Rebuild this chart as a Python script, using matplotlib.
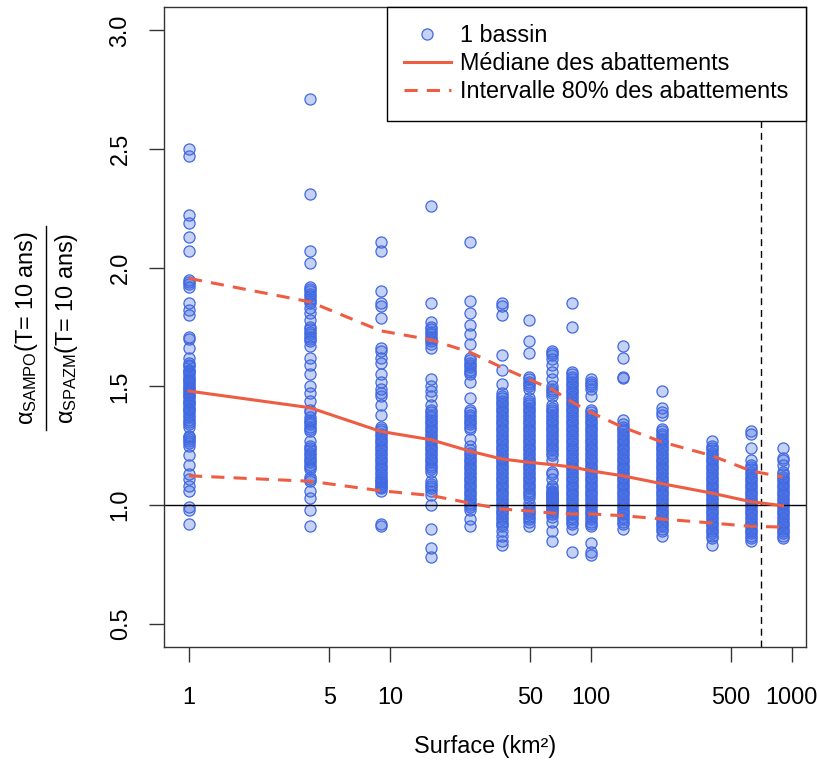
import matplotlib
matplotlib.use('Agg')
import matplotlib.pyplot as plt
from matplotlib.lines import Line2D

plt.rcParams['font.family'] = ['Liberation Sans', 'DejaVu Sans']
plt.rcParams['mathtext.fontset'] = 'custom'
plt.rcParams['mathtext.rm'] = 'Liberation Sans'
plt.rcParams['mathtext.it'] = 'Liberation Sans'
plt.rcParams['mathtext.bf'] = 'Liberation Sans:bold'

# surfaces (km2) of the basin groups
surfaces = [1, 4, 9, 16, 25, 36, 49, 64, 81, 100, 144, 225, 400, 625, 900]

# ratio values per surface group
col1 = [2.50, 2.47, 2.22, 2.19, 2.13, 2.07, 1.95, 1.94, 1.93, 1.92, 1.85, 1.82, 1.80,
        1.71, 1.70, 1.66, 1.62, 1.60, 1.59, 1.57, 1.56, 1.55, 1.54, 1.53, 1.52, 1.51,
        1.50, 1.49, 1.48, 1.47, 1.46, 1.45, 1.44, 1.43, 1.42, 1.41, 1.40, 1.38, 1.37,
        1.35, 1.34, 1.29, 1.28, 1.27, 1.25, 1.21, 1.17, 1.13, 1.11, 1.08, 1.06, 0.99,
        0.98, 0.92, 1.585, 1.565, 1.525, 1.495, 1.465, 1.435, 1.405, 1.39, 1.36, 1.33,
        1.285, 1.26]
col4 = [2.71, 2.31, 2.07, 2.02, 1.92, 1.91, 1.90, 1.88, 1.87, 1.85, 1.83, 1.81, 1.78,
        1.75, 1.73, 1.71, 1.69, 1.67, 1.62, 1.59, 1.55, 1.50, 1.47, 1.44, 1.40, 1.39,
        1.37, 1.35, 1.33, 1.31, 1.27, 1.25, 1.23, 1.21, 1.19, 1.16, 1.15, 1.12, 1.11,
        1.10, 1.06, 1.03, 0.98, 0.91, 1.89, 1.86, 1.74, 1.72, 1.70, 1.36, 1.34, 1.32,
        1.24, 1.22, 1.20, 1.18, 1.17]
col9 = [2.11, 2.07, 1.90, 1.85, 1.84, 1.79, 1.66, 1.65, 1.62, 1.60, 1.55, 1.52, 1.49,
        1.47, 1.46, 1.42, 1.38, 1.33, 1.32, 1.31, 1.30, 1.28, 1.27, 1.25, 1.23, 1.21,
        1.20, 1.18, 1.16, 1.14, 1.12, 1.10, 1.09, 1.08, 1.07, 1.06, 0.92, 0.91, 1.29,
        1.26, 1.24, 1.22, 1.19, 1.17, 1.15, 1.13, 1.11, 1.095, 1.075]
col16 = [2.26, 1.85, 1.77, 1.75, 1.74, 1.72, 1.71, 1.70, 1.68, 1.66, 1.53, 1.50, 1.48,
         1.46, 1.42, 1.39, 1.37, 1.35, 1.33, 1.31, 1.29, 1.27, 1.25, 1.23, 1.21, 1.19,
         1.17, 1.15, 1.14, 1.10, 1.08, 1.06, 1.04, 1.00, 0.90, 0.82, 0.78, 1.73, 1.69,
         1.40, 1.38, 1.36, 1.34, 1.32, 1.30, 1.28, 1.26, 1.24, 1.22, 1.20, 1.18, 1.16,
         1.09, 1.07]
col25 = [2.11, 1.86, 1.81, 1.76, 1.72, 1.68, 1.62, 1.60, 1.58, 1.56, 1.55, 1.52, 1.45,
         1.40, 1.38, 1.36, 1.34, 1.32, 1.28, 1.25, 1.22, 1.20, 1.18, 1.16, 1.14, 1.12,
         1.10, 1.08, 1.06, 1.04, 1.02, 1.00, 0.98, 0.94, 0.91, 1.61, 1.59, 1.57, 1.39,
         1.37, 1.35, 1.33, 1.23, 1.21, 1.19, 1.17, 1.15, 1.13, 1.11, 1.09, 1.07, 1.05,
         1.03, 1.01, 0.99]
col36 = [1.85, 1.84, 1.80, 1.63, 1.57, 1.51, 1.47, 1.45, 1.43, 1.41, 1.40, 1.38, 1.36,
         1.34, 1.33, 1.31, 1.29, 1.27, 1.25, 1.23, 1.21, 1.19, 1.17, 1.15, 1.13, 1.11,
         1.09, 1.07, 1.05, 1.03, 1.01, 0.99, 0.97, 0.95, 0.93, 0.91, 0.89, 0.87, 0.85,
         0.83, 1.46, 1.44, 1.42, 1.39, 1.37, 1.35, 1.32, 1.30, 1.28, 1.26, 1.24, 1.22,
         1.20, 1.18, 1.16, 1.14, 1.12, 1.10, 1.08, 1.06, 1.04, 1.02, 1.00, 0.98, 0.96,
         0.94, 0.92]
col49 = [1.78, 1.69, 1.64, 1.54, 1.52, 1.50, 1.49, 1.45, 1.43, 1.41, 1.39, 1.37, 1.35,
         1.33, 1.31, 1.29, 1.27, 1.25, 1.23, 1.21, 1.19, 1.17, 1.15, 1.13, 1.11, 1.09,
         1.07, 1.05, 1.03, 1.01, 0.99, 0.97, 0.95, 0.93, 0.91, 1.53, 1.51, 1.44, 1.42,
         1.40, 1.38, 1.36, 1.34, 1.32, 1.30, 1.28, 1.26, 1.24, 1.22, 1.20, 1.18, 1.16,
         1.14, 1.12, 1.10, 1.08, 1.06, 1.04, 0.98, 0.96, 0.94]
col64 = [1.65, 1.64, 1.63, 1.615, 1.59, 1.56, 1.53, 1.50, 1.48, 1.46, 1.42, 1.40, 1.38,
         1.36, 1.34, 1.32, 1.30, 1.28, 1.26, 1.24, 1.22, 1.19, 1.14, 1.11, 1.08, 1.06,
         1.05, 1.04, 1.03, 1.02, 1.01, 1.00, 0.99, 0.98, 0.97, 0.93, 0.89, 0.85, 1.49,
         1.47, 1.41, 1.39, 1.37, 1.35, 1.33, 1.31, 1.29, 1.27, 1.25, 1.23, 1.21, 1.13,
         1.07, 1.055, 1.045, 1.035, 1.025, 1.015, 1.005, 0.995, 0.985, 0.96, 0.95]
col81 = [1.85, 1.75, 1.56, 1.54, 1.52, 1.50, 1.48, 1.46, 1.44, 1.42, 1.40, 1.38, 1.36,
         1.34, 1.32, 1.30, 1.28, 1.26, 1.24, 1.22, 1.20, 1.18, 1.16, 1.14, 1.12, 1.10,
         1.08, 1.06, 1.04, 1.02, 1.00, 0.98, 0.96, 0.94, 0.92, 0.90, 0.80, 1.55, 1.53,
         1.51, 1.49, 1.47, 1.45, 1.43, 1.41, 1.39, 1.37, 1.35, 1.33, 1.31, 1.29, 1.27,
         1.25, 1.23, 1.21, 1.19, 1.17, 1.15, 1.13, 1.11, 1.09, 1.07, 1.05, 1.03, 1.01,
         0.99, 0.97, 0.95, 0.93]
col100 = [1.53, 1.51, 1.49, 1.46, 1.40, 1.38, 1.36, 1.34, 1.32, 1.30, 1.28, 1.26, 1.24,
          1.22, 1.20, 1.18, 1.16, 1.14, 1.12, 1.10, 1.08, 1.06, 1.04, 1.02, 1.00, 0.98,
          0.96, 0.94, 0.92, 0.91, 0.84, 0.80, 1.52, 1.50, 1.39, 1.37, 1.35, 1.33, 1.31,
          1.29, 1.27, 1.25, 1.23, 1.21, 1.19, 1.17, 1.15, 1.13, 1.11, 1.09, 1.07, 1.05,
          1.03, 1.01, 0.99, 0.97, 0.95, 0.93, 0.79]
col144 = [1.67, 1.62, 1.54, 1.535, 1.36, 1.33, 1.31, 1.29, 1.27, 1.25, 1.23, 1.21, 1.19,
          1.17, 1.15, 1.13, 1.11, 1.09, 1.07, 1.05, 1.03, 1.01, 0.99, 0.97, 0.95, 0.93,
          0.90, 1.34, 1.32, 1.30, 1.28, 1.26, 1.24, 1.22, 1.20, 1.18, 1.16, 1.14, 1.12,
          1.10, 1.08, 1.06, 1.04, 1.02, 1.00, 0.98, 0.96, 0.94, 0.92]
col225 = [1.48, 1.41, 1.39, 1.38, 1.32, 1.30, 1.28, 1.26, 1.24, 1.22, 1.20, 1.18, 1.16,
          1.14, 1.12, 1.10, 1.08, 1.06, 1.04, 1.02, 1.00, 0.98, 0.96, 0.94, 0.92, 0.90,
          0.89, 0.87, 1.31, 1.29, 1.27, 1.25, 1.23, 1.21, 1.19, 1.17, 1.15, 1.13, 1.11,
          1.09, 1.07, 1.05, 1.03, 1.01, 0.99, 0.97, 0.95, 0.93, 0.91]
col400 = [1.27, 1.25, 1.23, 1.21, 1.19, 1.17, 1.15, 1.13, 1.11, 1.09, 1.07, 1.05, 1.03,
          1.01, 0.99, 0.97, 0.95, 0.93, 0.91, 0.89, 0.87, 0.83, 1.24, 1.22, 1.20, 1.18,
          1.16, 1.14, 1.12, 1.10, 1.08, 1.06, 1.04, 1.02, 1.00, 0.98, 0.96, 0.94, 0.92,
          0.90, 0.88, 0.86]
col625 = [1.31, 1.30, 1.24, 1.19, 1.17, 1.15, 1.13, 1.11, 1.09, 1.07, 1.05, 1.03, 1.01,
          0.99, 0.97, 0.95, 0.93, 0.91, 0.89, 0.87, 0.86, 0.85, 1.16, 1.14, 1.12, 1.10,
          1.08, 1.06, 1.04, 1.02, 1.00, 0.98, 0.96, 0.94, 0.92, 0.90, 0.88]
col900 = [1.24, 1.20, 1.17, 1.14, 1.12, 1.10, 1.08, 1.06, 1.04, 1.02, 1.00, 0.98, 0.96,
          0.94, 0.92, 0.90, 0.88, 0.87, 0.86, 1.19, 1.13, 1.11, 1.09, 1.07, 1.05, 1.03,
          1.01, 0.99, 0.97, 0.95, 0.93, 0.91, 0.89]

columns = [col1, col4, col9, col16, col25, col36, col49, col64, col81, col100,
           col144, col225, col400, col625, col900]

# median and 80% interval of the ratios
median = [1.48, 1.41, 1.31, 1.275, 1.227, 1.194, 1.18, 1.17, 1.16, 1.144,
          1.123, 1.09, 1.05, 1.014, 0.997]
q90 = [1.955, 1.856, 1.734, 1.696, 1.644, 1.58, 1.53, 1.488, 1.433, 1.39,
       1.328, 1.266, 1.208, 1.144, 1.118]
q10 = [1.123, 1.10, 1.06, 1.04, 1.008, 0.983, 0.975, 0.966, 0.962, 0.962,
       0.955, 0.941, 0.924, 0.91, 0.907]

surface_limit = 700

xticks = [1, 5, 10, 50, 100, 500, 1000]
yticks = [0.5, 1.0, 1.5, 2.0, 2.5, 3.0]

blue = '#4169E1'
fill = (0.255, 0.412, 0.882, 0.3)
red = '#EE5C42'
fs = 16.8

fig = plt.figure(figsize=(8.17, 7.67), dpi=100)
ax = fig.add_axes([0.2011, 0.156, 0.7854, 0.8353])

xs, ys = [], []
for s, col in zip(surfaces, columns):
    xs += [s] * len(col)
    ys += col
ax.scatter(xs, ys, s=64, facecolor=fill, edgecolor=blue, linewidth=0.9, zorder=2)

ax.axhline(1.0, color='black', lw=1.0, zorder=2.5)
ax.axvline(surface_limit, color='black', lw=1.0, linestyle=(0, (5, 3.5)), zorder=2.5)

dash = (0, (4.3, 3))
ax.plot(surfaces, median, color=red, lw=2.2, zorder=3)
ax.plot(surfaces, q90, color=red, lw=2.2, linestyle=dash, zorder=3)
ax.plot(surfaces, q10, color=red, lw=2.2, linestyle=dash, zorder=3)

ax.set_xscale('log')
ax.set_xlim(10 ** -0.123, 10 ** 3.071)
ax.set_ylim(0.4, 3.1)
ax.set_xticks(xticks)
ax.set_xticklabels([str(t) for t in xticks])
ax.minorticks_off()
ax.set_yticks(yticks)
ax.set_yticklabels(['%.1f' % t for t in yticks], rotation=90, va='center')
ax.tick_params(axis='both', direction='out', length=10.5, width=1.0,
               labelsize=fs, color='#333333')
ax.tick_params(axis='x', pad=17)
ax.tick_params(axis='y', pad=13)
for sp in ax.spines.values():
    sp.set_linewidth(1.0)
    sp.set_color('#333333')

fig.text(485 / 817, 1 - 747 / 767, 'Surface (km²)', ha='center', va='center',
         fontsize=fs)

# y label drawn as a fraction: numerator, bar, denominator
fig.text(27 / 817, 1 - 328 / 767, r'$\alpha_{\mathrm{SAMPO}}$(T= 10 ans)',
         ha='center', va='center', rotation=90, fontsize=fs)
fig.text(66 / 817, 1 - 328 / 767, r'$\alpha_{\mathrm{SPAZM}}$(T= 10 ans)',
         ha='center', va='center', rotation=90, fontsize=fs)
fig.add_artist(Line2D([46 / 817, 46 / 817], [1 - 226 / 767, 1 - 430 / 767],
                      color='black', lw=1.0, transform=fig.transFigure))

handles = [
    Line2D([], [], linestyle='none', marker='o', markersize=8,
           markerfacecolor=fill, markeredgecolor=blue, markeredgewidth=0.9),
    Line2D([], [], color=red, lw=2.2),
    Line2D([], [], color=red, lw=2.2, linestyle=dash),
]
labels = ['1 bassin', 'Médiane des abattements', 'Intervalle 80% des abattements']
leg = ax.legend(handles, labels, loc='upper right', borderaxespad=0, fontsize=fs,
                fancybox=False, framealpha=1, edgecolor='black',
                handlelength=2.0, handletextpad=0.4, labelspacing=0.22,
                borderpad=0.75)
leg.get_frame().set_linewidth(1.0)

fig.savefig('out.png', dpi=100)
